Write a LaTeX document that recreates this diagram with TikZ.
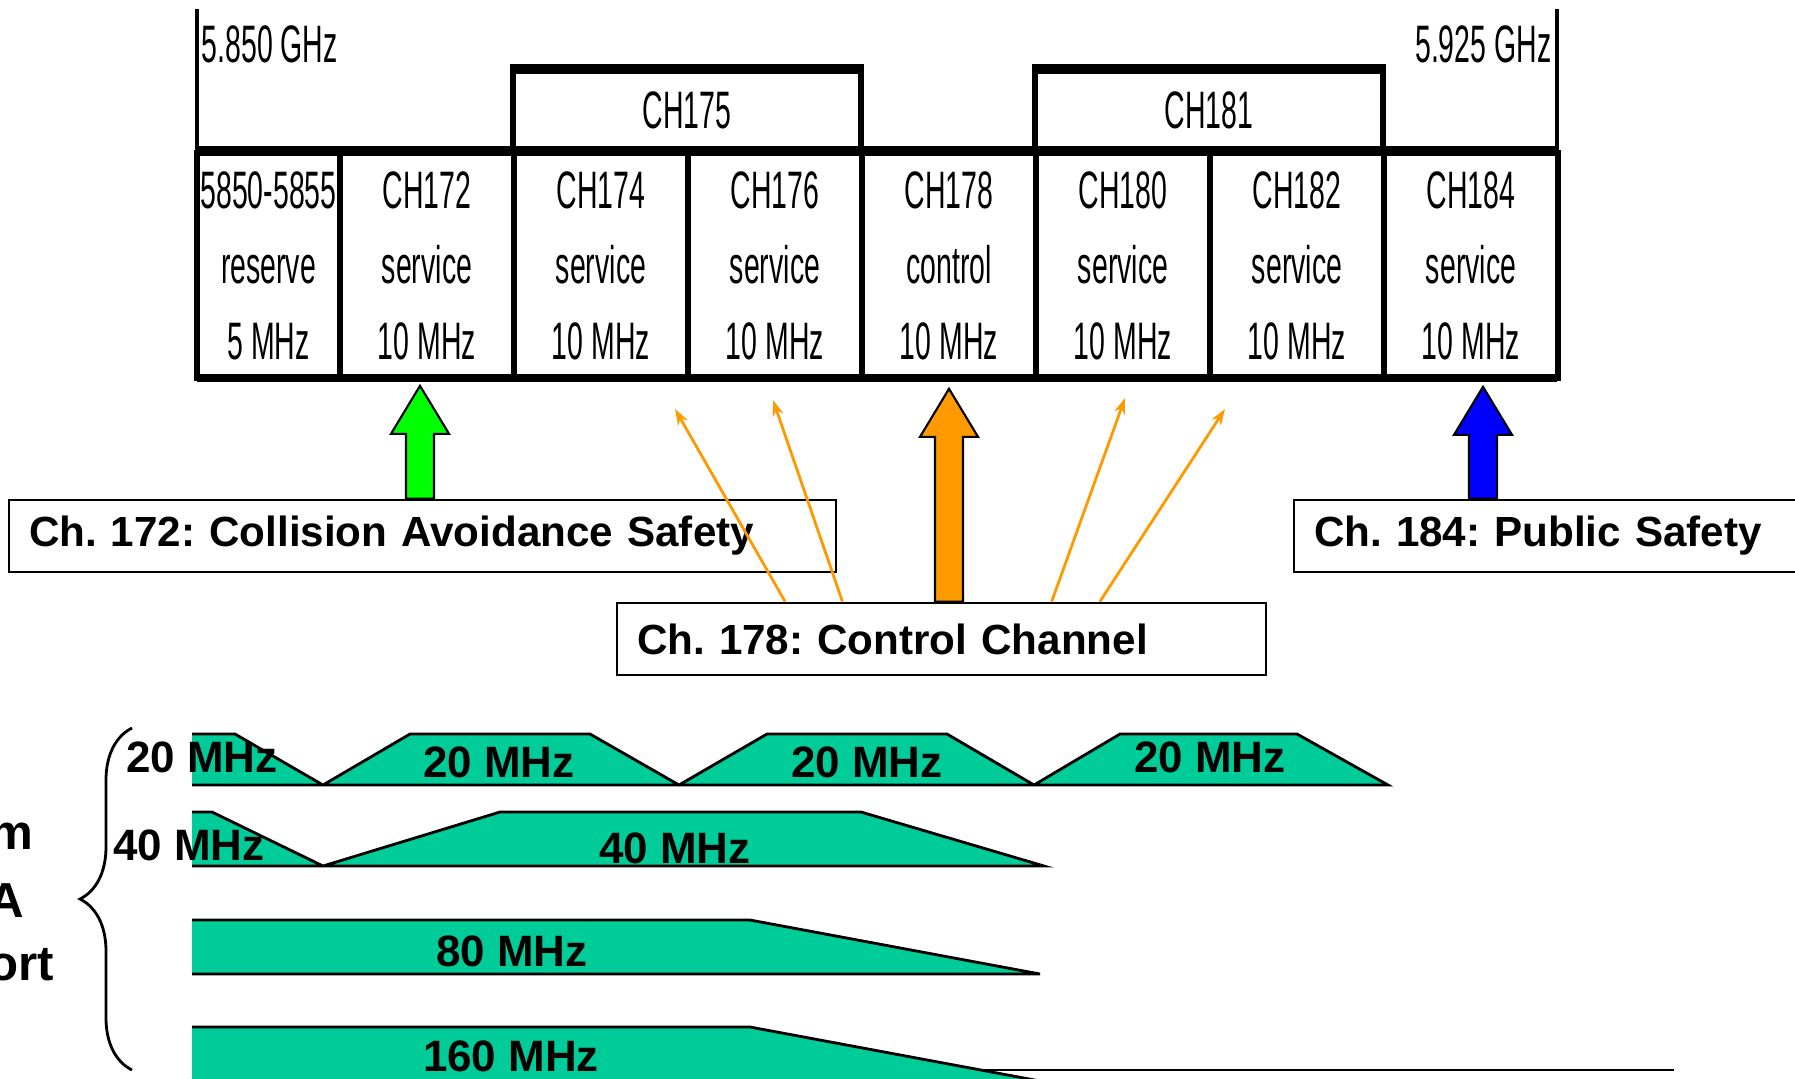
\documentclass[tikz,border=0pt]{standalone}
\usepackage{fontspec}
\setmainfont{Liberation Sans}
\newfontfamily\bandfont{Liberation Sans}[FakeStretch=0.54]
\usepackage{tikz}
\usetikzlibrary{
  arrows.meta,
  calc,
  decorations.pathreplacing
}
\definecolor{BandTeal}    {RGB}{0,  204, 153}
\definecolor{SignalOrange}{RGB}{255, 153,   0}
\definecolor{SafetyGreen} {RGB}{0,  255,   0}
\definecolor{PublicBlue}  {RGB}{0,    0, 255}
\frenchspacing

\newcommand{\blockarrow}[3]{%
  \filldraw[fill=#1, draw=black, line width=0.6pt]
    ($(#2)+(-14,0)$) -- ($(#3)+(-14,48)$) -- ($(#3)+(-29,48)$)
    -- (#3) -- ($(#3)+(29,48)$) -- ($(#3)+(14,48)$)
    -- ($(#2)+(14,0)$) -- cycle;}

\begin{document}
\begin{tikzpicture}[
  x=0.1mm, y=-0.1mm,
  cell/.style={
    draw, line width=1.6pt,
    minimum width=17.4mm,
    minimum height=22.5mm,
    align=center, inner sep=0pt,
    font=\bandfont\fontsize{15}{21.5}\selectfont},
  header/.style={cell,
    minimum width=34.8mm,
    minimum height=7.8mm},
  freq/.style={inner sep=0pt,
    font=\bandfont\fontsize{15}{18}\selectfont},
  tag/.style={
    draw, line width=0.8pt,
    inner xsep=2mm, inner ysep=0pt,
    minimum height=7.2mm, align=left,
    font=\bfseries\fontsize{12}{14}\selectfont},
  band/.style={
    fill=BandTeal, draw=black,
    line width=0.8pt},
  bwtext/.style={inner sep=0pt,
    font=\bfseries\fontsize{12.5}{15}\selectfont},
  side/.style={anchor=east, inner sep=0pt,
    font=\bfseries\fontsize{14}{17}\selectfont},
  thinarrow/.style={
    -{Stealth[length=1.6mm, width=1.1mm]},
    line width=0.8pt, SignalOrange}
]
\useasboundingbox (0,0) rectangle (1795,1078);

\draw[line width=1pt] (197,9) -- (197,378);
\draw[line width=1pt] (1557,9) -- (1557,378);
\node[freq, anchor=west] (f5850) at (201,44) {5.850 GHz};
\node[freq, anchor=east] (f5925) at (1552,44) {5.925 GHz};

\node[header] (h175) at (687,110) {CH175};
\node[header] (h181) at (1209,110) {CH181};
\draw[line width=2.4pt] (h175.north west) -- (h175.north east);
\draw[line width=2.4pt] (h181.north west) -- (h181.north east);

\node[cell, minimum width=14.3mm] (cres) at (268.5,265.5)
  {5850-5855\\reserve\\5 MHz};
\foreach \ch/\kind [count=\i] in {172/service, 174/service,
    176/service, 178/control, 180/service, 182/service, 184/service}
  \node[cell] (c\ch) at ({340+174*\i-87},265.5)
    {CH\ch\\\kind\\10 MHz};

\draw[line width=2.4pt] (197,150) -- (1557,150);
\draw[line width=2.4pt] (197,378) -- (1557,378);

\node[tag, text width=78.7mm] (lab172) at (422.5,536)
  {Ch. 172: Collision Avoidance Safety};
\node[tag, text width=60.9mm] (lab178) at (941.5,639)
  {Ch. 178: Control Channel};
\node[tag, text width=47.6mm] (lab184) at (1552,536)
  {Ch. 184: Public Safety};

\coordinate (gtip) at ($(c172.south)+(-7,5)$);
\coordinate (otip) at ($(c178.south)+(0,8)$);
\coordinate (btip) at ($(c184.south)+(12,6)$);
\blockarrow{SafetyGreen}{lab172.north -| gtip}{gtip}
\blockarrow{SignalOrange}{lab178.north -| otip}{otip}
\blockarrow{PublicBlue}{lab184.north -| btip}{btip}

\coordinate (t174) at (675,409);
\coordinate (t176) at (773,400);
\coordinate (t180) at (1125,398);
\coordinate (t182) at (1225,409);
\draw[thinarrow] ($(lab178.north west)!0.26!(lab178.north east)$) -- (t174);
\draw[thinarrow] ($(lab178.north west)!0.348!(lab178.north east)$) -- (t176);
\draw[thinarrow] ($(lab178.north west)!0.669!(lab178.north east)$) -- (t180);
\draw[thinarrow] ($(lab178.north west)!0.743!(lab178.north east)$) -- (t182);

\filldraw[band] (192,734) -- (235,734) -- (323,785) -- (410,734)
  -- (590,734) -- (679,785) -- (767,734) -- (947,734) -- (1034,785)
  -- (1120,734) -- (1297,734) -- (1388,785) -- (192,785);
\filldraw[band] (192,812) -- (212,812) -- (323,866) -- (500,812)
  -- (861,812) -- (1044,866) -- (192,866);
\filldraw[band] (192,920) -- (750,920) -- (1040,974) -- (192,974);
\filldraw[band] (192,1027) -- (750,1027) -- (1040,1081) -- (192,1081);
\draw[line width=0.8pt] (981,1070) -- (1674,1070);

\node[bwtext] (w20a) at (202,757) {20 MHz};
\node[bwtext] (w20b) at (499,762) {20 MHz};
\node[bwtext] (w20c) at (867,762) {20 MHz};
\node[bwtext] (w20d) at (1210,757) {20 MHz};
\node[bwtext] (w40a) at (189,845) {40 MHz};
\node[bwtext] (w40b) at (675,848) {40 MHz};
\node[bwtext] (w80) at (512,951) {80 MHz};
\node[bwtext] (w160) at (511,1056) {160 MHz};

\draw[decorate, decoration={brace, amplitude=5.2mm},
  line width=0.8pt] (132,1070) -- (132,728);
\node[side] (side1) at (34,836) {m};
\node[side] (side2) at (25,901) {A};
\node[side] (side3) at (55,965) {ort};

\end{tikzpicture}
\end{document}
